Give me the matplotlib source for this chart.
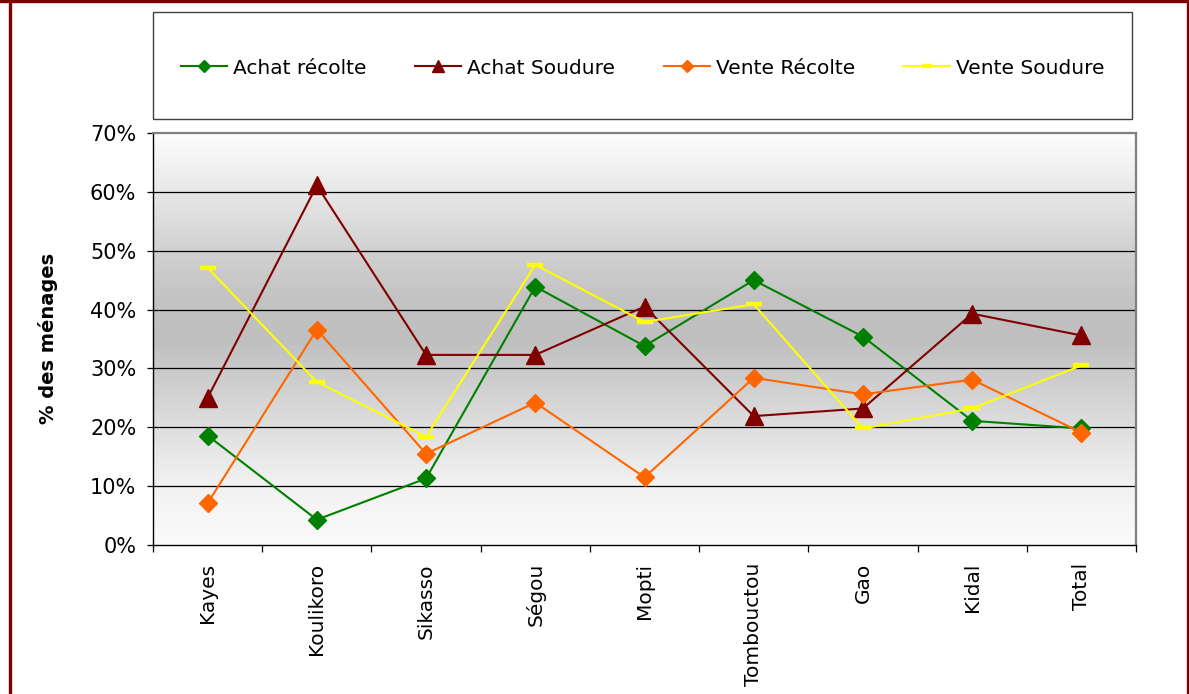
import numpy as np
import matplotlib
matplotlib.use("Agg")
import matplotlib.pyplot as plt
from matplotlib.colors import LinearSegmentedColormap
from matplotlib.patches import Rectangle
from matplotlib.lines import Line2D
from matplotlib.ticker import PercentFormatter, FixedLocator

# ---------------- data ----------------
categories = ["Kayes", "Koulikoro", "Sikasso", "Ségou", "Mopti",
              "Tombouctou", "Gao", "Kidal", "Total"]
achat_recolte = [18.6, 4.3, 11.3, 43.9, 33.8, 45.0, 35.4, 21.1, 19.8]
achat_soudure = [25.0, 61.1, 32.3, 32.3, 40.5, 21.9, 23.2, 39.3, 35.6]
vente_recolte = [7.1, 36.6, 15.5, 24.2, 11.5, 28.4, 25.6, 28.1, 19.1]
vente_soudure = [47.1, 27.7, 18.4, 47.6, 37.9, 40.9, 19.8, 23.2, 30.5]
series_names = ["Achat récolte", "Achat Soudure", "Vente Récolte", "Vente Soudure"]
y_ticks = [0, 10, 20, 30, 40, 50, 60, 70]
y_label = "% des ménages"

# ---------------- figure ----------------
plt.rcParams["font.family"] = ["DejaVu Sans"]
W, H = 1189, 694
fig = plt.figure(figsize=(W / 100, H / 100), dpi=100)
fig.patch.set_facecolor("white")

ax = fig.add_axes([153 / W, (H - 545) / H, 983 / W, 412 / H])
x = np.arange(len(categories))
ax.set_xlim(-0.5, len(categories) - 0.5)
ax.set_ylim(y_ticks[0], y_ticks[-1])

# gradient background of the plot area
cmap = LinearSegmentedColormap.from_list(
    "bg", [(0.0, "#fbfbfb"), (0.15, "#f1f1f1"), (0.3, "#dcdcdc"),
           (0.5, "#bfbfbf"), (0.6, "#c3c3c3"), (0.75, "#d6d6d6"),
           (0.88, "#ebebeb"), (1.0, "#fdfdfd")])
grad = np.linspace(0, 1, 256).reshape(-1, 1)
ax.imshow(grad, extent=[-0.5, len(categories) - 0.5, y_ticks[0], y_ticks[-1]],
          origin="lower", aspect="auto", cmap=cmap, zorder=0,
          interpolation="bicubic")

# gridlines
for v in y_ticks[1:-1]:
    ax.axhline(v, color="black", lw=0.9, zorder=1)

styles = [
    dict(color="#008000", marker="D", markersize=9, mfc="#008000", mec="#008000"),
    dict(color="#800000", marker="^", markersize=13, mfc="#800000", mec="#800000"),
    dict(color="#FF6600", marker="D", markersize=9, mfc="#FF6600", mec="#FF6600"),
    dict(color="#FFFF00", marker="_", markersize=12, mew=3.2, mec="#FFFF00"),
]
data = [achat_recolte, achat_soudure, vente_recolte, vente_soudure]
handles = []
for name, vals, st in zip(series_names, data, styles):
    ln, = ax.plot(x, vals, lw=1.5, label=name, zorder=3, clip_on=False, **st)
    handles.append(ln)

# spines
for s in ["left", "bottom"]:
    ax.spines[s].set_color("black")
    ax.spines[s].set_linewidth(1.0)
for s in ["top", "right"]:
    ax.spines[s].set_color("#808080")
    ax.spines[s].set_linewidth(1.6)

# y axis
ax.set_yticks(y_ticks)
ax.yaxis.set_major_formatter(PercentFormatter(100, decimals=0))
ax.tick_params(axis="y", direction="out", length=4, width=0.9, pad=8,
               labelsize=15, colors="black")

# x axis
ax.set_xticks(x)
ax.set_xticklabels(categories, rotation=90, fontsize=14.5)
ax.tick_params(axis="x", which="major", length=0, pad=13)
ax.xaxis.set_minor_locator(FixedLocator(np.arange(-0.5, len(categories), 1.0)))
ax.tick_params(axis="x", which="minor", direction="out", length=5, width=0.9)

# y label
fig.text(48 / W, 1 - 338 / H, y_label, rotation=90, ha="center", va="center",
         fontsize=14, fontweight="bold")

# legend box
fig.add_artist(Rectangle((153 / W, (H - 119) / H), 979 / W, 107 / H,
                         transform=fig.transFigure, facecolor="white",
                         edgecolor="#404040", lw=1.0, zorder=1))
leg = fig.legend(handles=handles, loc="center",
                 bbox_to_anchor=(642.5 / W, 1 - 68 / H), ncol=4, frameon=False,
                 fontsize=14.5, handlelength=2.3, handletextpad=0.3,
                 columnspacing=2.4, markerscale=0.65)
leg.set_zorder(2)

# dark red outer border
bc = "#800000"
fig.add_artist(Line2D([9.5 / W, 9.5 / W], [0, 1], transform=fig.transFigure,
                      color=bc, lw=2.4))
fig.add_artist(Line2D([0, 1], [1 - 1 / H, 1 - 1 / H], transform=fig.transFigure,
                      color=bc, lw=2.4))
fig.add_artist(Line2D([1187.5 / W, 1187.5 / W], [0, 1], transform=fig.transFigure,
                      color=bc, lw=2.4))

fig.savefig("out.png", dpi=100, facecolor="white")
